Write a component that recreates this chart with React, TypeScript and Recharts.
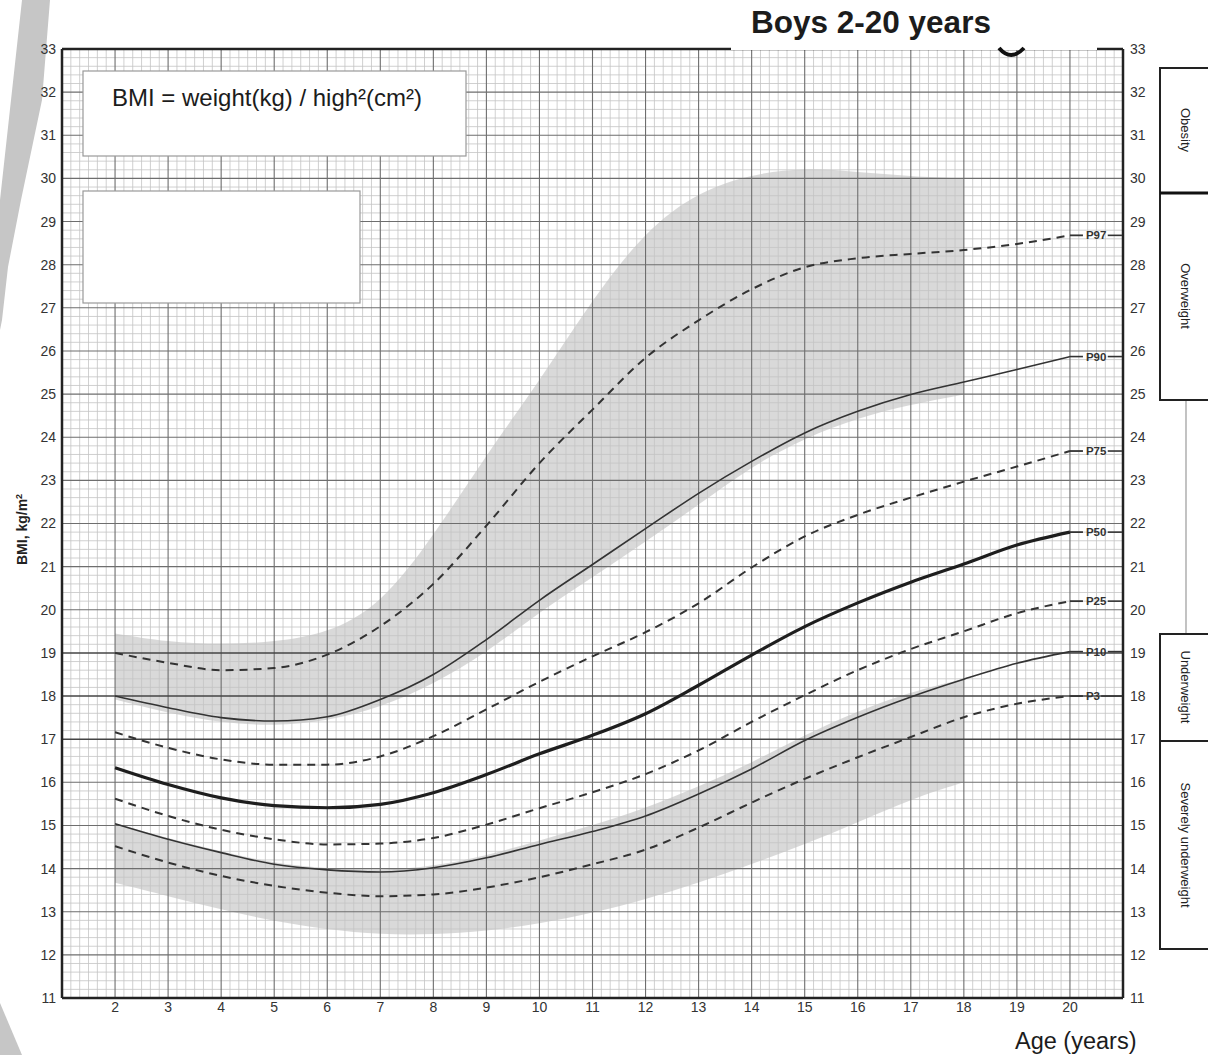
import React from "react";
import {
  ComposedChart,
  Line,
  Area,
  XAxis,
  YAxis,
  ReferenceLine,
  ReferenceDot
} from "recharts";

const FONT = '"Liberation Sans", Arial, Helvetica, sans-serif';

// age in years (x) and BMI percentiles (y)
const ages = [2, 3, 4, 5, 6, 7, 8, 9, 10, 11, 12, 13, 14, 15, 16, 17, 18, 19, 20];
const p97 = [19.0, 18.77, 18.6, 18.65, 18.96, 19.62, 20.6, 21.95, 23.4, 24.64, 25.84, 26.71, 27.43, 27.94, 28.15, 28.25, 28.34, 28.48, 28.68];
const p90 = [18.0, 17.73, 17.5, 17.42, 17.52, 17.92, 18.5, 19.31, 20.22, 21.05, 21.88, 22.7, 23.44, 24.1, 24.6, 24.99, 25.28, 25.57, 25.87];
const p75 = [17.16, 16.8, 16.53, 16.41, 16.41, 16.6, 17.07, 17.69, 18.33, 18.92, 19.48, 20.15, 20.98, 21.7, 22.2, 22.6, 22.97, 23.32, 23.68];
const p50 = [16.34, 15.95, 15.64, 15.46, 15.41, 15.49, 15.76, 16.18, 16.66, 17.09, 17.59, 18.25, 18.95, 19.61, 20.16, 20.64, 21.06, 21.5, 21.8];
const p25 = [15.62, 15.22, 14.9, 14.68, 14.56, 14.58, 14.71, 15.02, 15.4, 15.77, 16.19, 16.74, 17.4, 18.02, 18.6, 19.09, 19.5, 19.92, 20.2];
const p10 = [15.04, 14.68, 14.37, 14.1, 13.97, 13.92, 14.02, 14.25, 14.56, 14.86, 15.22, 15.73, 16.31, 16.97, 17.51, 17.98, 18.39, 18.76, 19.03];
const p3 = [14.52, 14.14, 13.83, 13.6, 13.44, 13.36, 13.4, 13.56, 13.8, 14.1, 14.44, 14.95, 15.53, 16.08, 16.58, 17.05, 17.51, 17.82, 18.0];

// grey reference bands (2-18 years)
const bandAges = [2, 3, 4, 5, 6, 7, 8, 9, 10, 11, 12, 13, 14, 15, 16, 17, 18];
const upperBandLow = [17.92, 17.6, 17.38, 17.3, 17.42, 17.73, 18.27, 19.0, 19.95, 20.75, 21.58, 22.43, 23.33, 23.98, 24.45, 24.76, 24.99];
const upperBandHigh = [19.45, 19.25, 19.2, 19.25, 19.45, 20.1, 21.7, 23.6, 25.3, 27.2, 28.8, 29.7, 30.1, 30.25, 30.15, 30.05, 30.0];
const lowerBandLow = [13.67, 13.36, 13.05, 12.78, 12.59, 12.47, 12.47, 12.55, 12.72, 12.97, 13.28, 13.67, 14.1, 14.56, 15.07, 15.61, 16.0];
const lowerBandHigh = [15.05, 14.7, 14.4, 14.12, 14.0, 13.95, 14.05, 14.3, 14.65, 15.0, 15.4, 15.9, 16.45, 17.1, 17.65, 18.1, 18.4];

const ageTicks = [2, 3, 4, 5, 6, 7, 8, 9, 10, 11, 12, 13, 14, 15, 16, 17, 18, 19, 20];
const bmiTicks = [11, 12, 13, 14, 15, 16, 17, 18, 19, 20, 21, 22, 23, 24, 25, 26, 27, 28, 29, 30, 31, 32, 33];

const series = [
  { key: "p97", name: "P97", values: p97, dashed: true, width: 2 },
  { key: "p90", name: "P90", values: p90, dashed: false, width: 1.6 },
  { key: "p75", name: "P75", values: p75, dashed: true, width: 2 },
  { key: "p50", name: "P50", values: p50, dashed: false, width: 3.2 },
  { key: "p25", name: "P25", values: p25, dashed: true, width: 2 },
  { key: "p10", name: "P10", values: p10, dashed: false, width: 1.6 },
  { key: "p3", name: "P3", values: p3, dashed: true, width: 2 }
];

const data = ages.map((age, i) => {
  const row: any = { age };
  series.forEach((s) => {
    row[s.key] = s.values[i];
  });
  const b = bandAges.indexOf(age);
  row.upperBand = b >= 0 ? [upperBandLow[b], upperBandHigh[b]] : undefined;
  row.lowerBand = b >= 0 ? [lowerBandLow[b], lowerBandHigh[b]] : undefined;
  return row;
});

// graph paper: every 2 months / 0.2 BMI, darker every whole unit
const minorAge: number[] = [];
for (let i = 1; i < 120; i++) if (i % 6) minorAge.push(1 + i / 6);
const minorBmi: number[] = [];
for (let i = 1; i < 110; i++) if (i % 5) minorBmi.push(11 + i / 5);
const majorAge = [2, 3, 4, 5, 6, 7, 8, 9, 10, 11, 12, 13, 14, 15, 16, 17, 18, 19, 20];
const majorBmi = bmiTicks.filter((v) => v > 11 && v < 33);

function EndTag(props: any) {
  const { cx, cy, name, width } = props;
  const textW = name.length * 6.6;
  return (
    <g>
      <line x1={cx} y1={cy} x2={cx + 13} y2={cy} stroke="#333" strokeWidth={Math.min(width, 1.8)} />
      <text
        x={cx + 16}
        y={cy}
        dy="0.36em"
        fontSize={11.5}
        fontWeight="bold"
        fontFamily={FONT}
        fill="#333"
      >
        {name}
      </text>
      <line x1={cx + 18 + textW} y1={cy} x2={cx + 52} y2={cy} stroke="#333" strokeWidth={1.6} />
    </g>
  );
}

function BmiChart() {
  return (
    <ComposedChart
      width={1208}
      height={1055}
      data={data}
      margin={{ top: 49, right: 45, bottom: 27, left: 0 }}
    >
      <XAxis
        dataKey="age"
        type="number"
        domain={[1, 21]}
        ticks={ageTicks}
        tickSize={0}
        tickMargin={4}
        height={30}
        axisLine={{ stroke: "#222", strokeWidth: 2.5 }}
        tick={{ fill: "#333", fontSize: 14, fontFamily: FONT }}
        allowDataOverflow
      />
      <YAxis
        yAxisId="left"
        type="number"
        domain={[11, 33]}
        ticks={bmiTicks}
        width={62}
        tickSize={0}
        tickMargin={6}
        axisLine={{ stroke: "#222", strokeWidth: 2.5 }}
        tick={{ fill: "#333", fontSize: 14, fontFamily: FONT }}
        allowDataOverflow
      />
      <YAxis
        yAxisId="right"
        orientation="right"
        type="number"
        domain={[11, 33]}
        ticks={bmiTicks}
        width={40}
        tickSize={0}
        tickMargin={7}
        axisLine={{ stroke: "#222", strokeWidth: 2.5 }}
        tick={{ fill: "#333", fontSize: 14, fontFamily: FONT }}
        allowDataOverflow
      />

      {minorAge.map((v) => (
        <ReferenceLine key={"ma" + v} yAxisId="left" x={v} stroke="#c4c4c4" strokeWidth={0.8} />
      ))}
      {minorBmi.map((v) => (
        <ReferenceLine key={"mb" + v} yAxisId="left" y={v} stroke="#c4c4c4" strokeWidth={0.8} />
      ))}
      {majorAge.map((v) => (
        <ReferenceLine key={"Ma" + v} yAxisId="left" x={v} stroke="#6e6e6e" strokeWidth={1.1} />
      ))}
      {majorBmi.map((v) => (
        <ReferenceLine
          key={"Mb" + v}
          yAxisId="left"
          y={v}
          stroke={v >= 17 && v <= 19 ? "#444" : "#6e6e6e"}
          strokeWidth={v >= 17 && v <= 19 ? 1.5 : 1.1}
        />
      ))}
      <ReferenceLine yAxisId="left" y={33} stroke="#222" strokeWidth={2.5} />

      <Area
        yAxisId="left"
        dataKey="upperBand"
        type="basis"
        stroke="none"
        fill="#000"
        fillOpacity={0.15}
        connectNulls
        isAnimationActive={false}
      />
      <Area
        yAxisId="left"
        dataKey="lowerBand"
        type="basis"
        stroke="none"
        fill="#000"
        fillOpacity={0.15}
        connectNulls
        isAnimationActive={false}
      />

      {series.map((s) => (
        <Line
          key={s.key}
          yAxisId="left"
          dataKey={s.key}
          type="monotone"
          stroke={s.width > 3 ? "#1e1e1e" : "#333"}
          strokeWidth={s.width}
          strokeDasharray={s.dashed ? "8 6" : undefined}
          dot={false}
          activeDot={false}
          isAnimationActive={false}
        />
      ))}

      {series.map((s) => (
        <ReferenceDot
          key={"tag" + s.key}
          yAxisId="left"
          x={20}
          y={s.values[s.values.length - 1]}
          r={0}
          ifOverflow="visible"
          shape={(p: any) => <EndTag cx={p.cx} cy={p.cy} name={s.name} width={s.width} />}
        />
      ))}
    </ComposedChart>
  );
}

export default function App() {
  return (
    <div
      style={{
        position: "absolute",
        left: 0,
        top: 0,
        width: 1208,
        height: 1055,
        overflow: "hidden",
        background: "#fff",
        fontFamily: FONT
      }}
    >
      <svg width={1208} height={1055} style={{ position: "absolute", left: 0, top: 0 }}>
        <polygon
          points="22,0 50,0 42,100 21,200 8,267 2,320 0,330 0,200 11,100"
          fill="#c6c6c6"
        />
        <polygon points="0,1003 22,1055 0,1055" fill="#c6c6c6" />
      </svg>

      <div style={{ position: "absolute", left: 0, top: 0 }}>
        <BmiChart />
      </div>

      <svg
        width={1208}
        height={1055}
        style={{ position: "absolute", left: 0, top: 0, pointerEvents: "none" }}
        fontFamily={FONT}
      >
        {/* title */}
        <rect x={731} y={0} width={366} height={50} fill="#fff" />
        <path d="M 999 48 Q 1011 62 1024 48" fill="none" stroke="#111" strokeWidth={4} />
        <text x={751} y={33} fontSize={31.5} fontWeight="bold" fill="#1c1c1c">
          Boys 2-20 years
        </text>

        {/* formula boxes */}
        <rect x={83} y={71} width={383} height={85} fill="#fff" stroke="#999" strokeWidth={1.2} />
        <text x={112} y={106} fontSize={24} fill="#1c1c1c">
          BMI = weight(kg) / high²(cm²)
        </text>
        <rect x={83} y={191} width={277} height={112} fill="#fff" stroke="#999" strokeWidth={1.2} />

        {/* axis titles */}
        <text
          transform="translate(27,565) rotate(-90)"
          fontSize={14}
          fontWeight="bold"
          fill="#222"
        >
          BMI, kg/m
          <tspan dy={-5} fontSize={9}>
            2
          </tspan>
        </text>
        <text x={1015} y={1049} fontSize={23.5} fill="#1c1c1c">
          Age (years)
        </text>

        {/* weight categories */}
        <line x1={1186} y1={400} x2={1186} y2={634} stroke="#9a9a9a" strokeWidth={1.2} />
        <rect x={1160} y={68} width={60} height={125} fill="#fff" stroke="#222" strokeWidth={2} />
        <rect x={1160} y={193} width={60} height={207} fill="#fff" stroke="#222" strokeWidth={2} />
        <line x1={1160} y1={193} x2={1208} y2={193} stroke="#111" strokeWidth={3} />
        <rect x={1160} y={634} width={60} height={107} fill="#fff" stroke="#222" strokeWidth={2} />
        <rect x={1160} y={741} width={60} height={208} fill="#fff" stroke="#222" strokeWidth={2} />
        {[
          { label: "Obesity", y: 130 },
          { label: "Overweight", y: 296 },
          { label: "Underweight", y: 687 },
          { label: "Severely underweight", y: 845 }
        ].map((c) => (
          <text
            key={c.label}
            transform={`translate(1181,${c.y}) rotate(90)`}
            textAnchor="middle"
            fontSize={13}
            fill="#222"
          >
            {c.label}
          </text>
        ))}
      </svg>
    </div>
  );
}
